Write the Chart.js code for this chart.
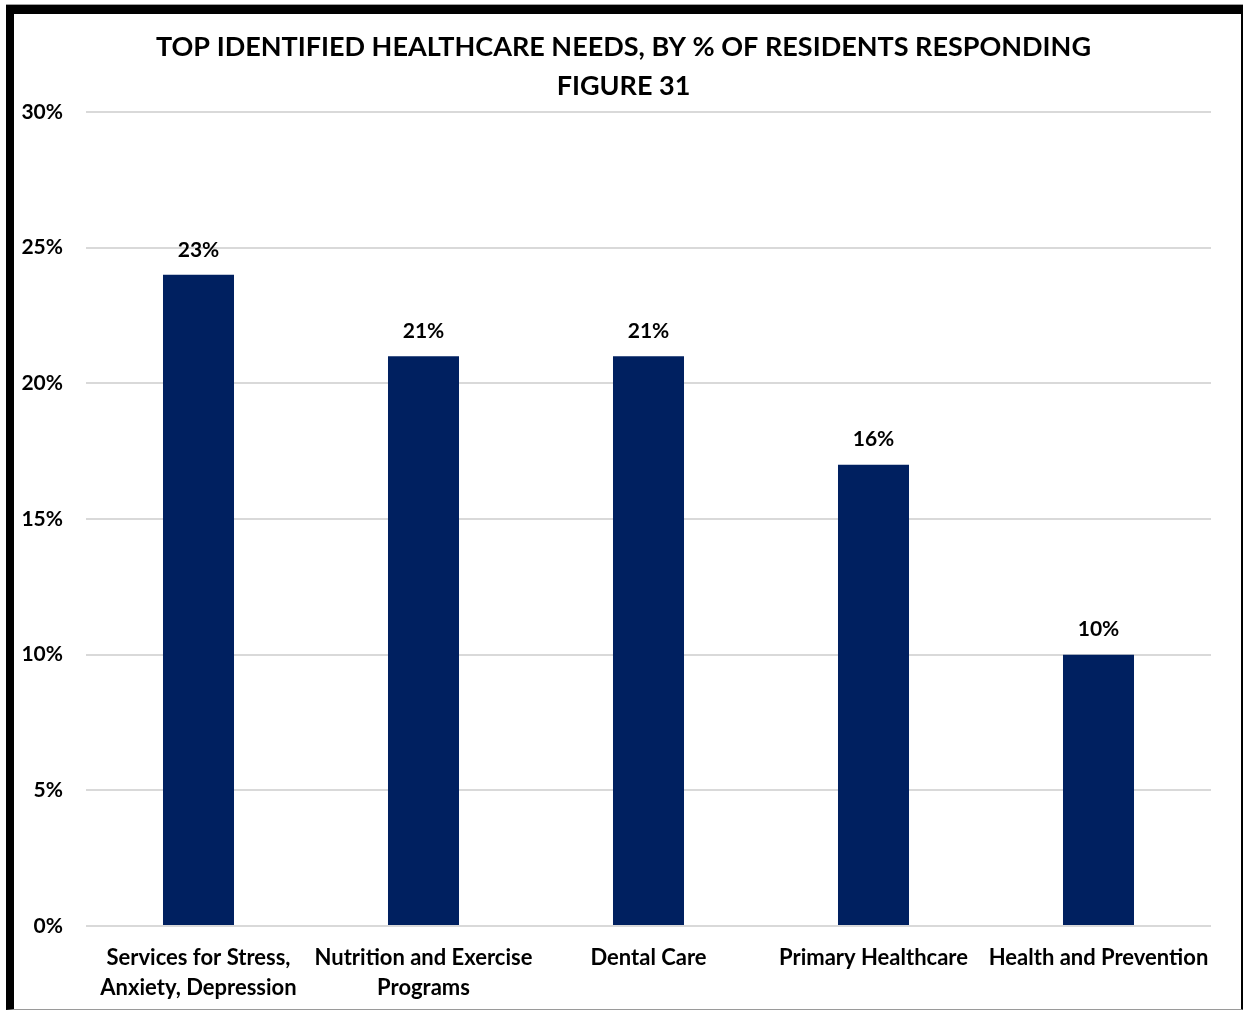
<!DOCTYPE html>
<html>
<head>
<meta charset="utf-8">
<script src="https://cdn.jsdelivr.net/npm/chart.js@4.4.0/dist/chart.umd.min.js"></script>
<style>
  html, body { margin: 0; padding: 0; background: #ffffff; }
  #wrap { position: relative; width: 1243px; height: 1011px; overflow: hidden; }
  #frame {
    position: absolute; left: 6px; top: 5px; width: 1227px; height: 995px;
    border-top: 9px solid #000; border-left: 8px solid #000;
    border-right: 3px solid #000; border-bottom: 1px solid #9a9a9a;
    box-shadow: 0 -1px 0 #a0a0a0;
    pointer-events: none;
  }
  canvas { position: absolute; left: 0; top: 0; }
</style>
</head>
<body>
<div id="wrap">
  <canvas id="c" width="1243" height="1011"></canvas>
  <div id="frame"></div>
</div>
<script>
const categories = [
  ["Services for Stress,", "Anxiety, Depression"],
  ["Nutrition and Exercise", "Programs"],
  "Dental Care",
  "Primary Healthcare",
  "Health and Prevention"
];
const barValues = [24, 21, 21, 17, 10];
const valueLabels = ["23%", "21%", "21%", "16%", "10%"];
const yTicks = [0, 5, 10, 15, 20, 25, 30];
const titleLines = ["TOP IDENTIFIED HEALTHCARE NEEDS, BY % OF RESIDENTS RESPONDING", "FIGURE 31"];

const FONT = "Lato, 'Open Sans', sans-serif";

const titlePlugin = {
  id: 'centeredTitle',
  afterDraw(chart) {
    const ctx = chart.ctx;
    ctx.save();
    ctx.font = "bold 27px " + FONT;
    ctx.fillStyle = "#000";
    ctx.textAlign = "center";
    ctx.textBaseline = "middle";
    const cx = chart.width / 2 + 2;
    titleLines.forEach((t, i) => ctx.fillText(t, cx, 47 + i * 39));
    ctx.restore();
  }
};

const valueLabelPlugin = {
  id: 'valueLabels',
  afterDatasetsDraw(chart) {
    const ctx = chart.ctx;
    const meta = chart.getDatasetMeta(0);
    ctx.save();
    ctx.font = "bold 21px " + FONT;
    ctx.fillStyle = "#000";
    ctx.textAlign = "center";
    ctx.textBaseline = "middle";
    meta.data.forEach((el, i) => {
      ctx.fillText(valueLabels[i], el.x, el.y - 25);
    });
    ctx.restore();
  }
};

new Chart(document.getElementById('c'), {
  type: 'bar',
  data: {
    labels: categories,
    datasets: [{
      data: barValues,
      backgroundColor: '#002060',
      borderWidth: 0,
      categoryPercentage: 1.0,
      barPercentage: 0.3156
    }]
  },
  options: {
    responsive: false,
    animation: false,
    devicePixelRatio: 1,
    layout: { padding: { left: 0, right: 32, top: 112, bottom: 0 } },
    plugins: {
      legend: { display: false },
      tooltip: { enabled: false },
      title: { display: false }
    },
    scales: {
      x: {
        grid: { display: false, drawTicks: false },
        border: { display: false },
        ticks: {
          color: '#000',
          font: { family: FONT, size: 22, weight: 'bold', lineHeight: 1.36 },
          padding: 17,
          autoSkip: false,
          maxRotation: 0,
          minRotation: 0
        },
        afterFit(scale) { scale.height = 85; }
      },
      y: {
        min: 0,
        max: 30,
        afterBuildTicks(scale) { scale.ticks = yTicks.map(v => ({ value: v })); },
        grid: { color: '#d9d9d9', lineWidth: 2, drawTicks: false },
        border: { display: false },
        ticks: {
          color: '#000',
          font: { family: FONT, size: 21, weight: 'bold' },
          padding: 23,
          callback: v => v + '%'
        },
        afterFit(scale) { scale.width = 86; }
      }
    }
  },
  plugins: [titlePlugin, valueLabelPlugin]
});
</script>
</body>
</html>
